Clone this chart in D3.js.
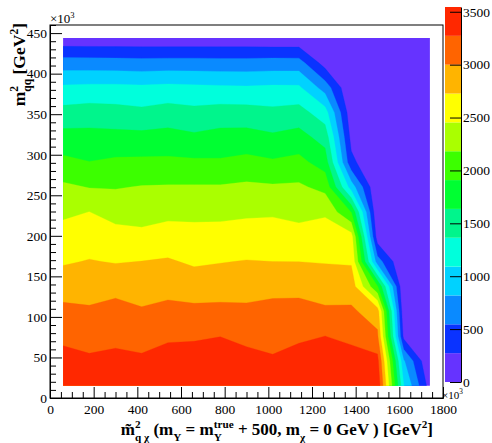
<!DOCTYPE html>
<html>
<head>
<meta charset="utf-8">
<script src="https://cdn.jsdelivr.net/npm/d3@7"></script>
<style>
body { margin: 0; background: #fff; }
text { font-family: "Liberation Serif", "Times New Roman", serif; }
</style>
</head>
<body>
<svg width="492" height="443"></svg>
<script>
// grid centres (units of 10^3 GeV^2)
var xBins = [60, 180, 300, 420, 540, 660, 780, 900, 1020, 1140, 1260, 1380, 1500, 1620, 1740];
var yBins = [15, 45.6, 76.3, 106.9, 137.6, 168.2, 198.8, 229.5, 260.1, 290.8, 321.4, 352, 382.7, 413.3, 444];

// z values, one row per yBin (bottom to top), one column per xBin
var zRows = [
    [3500, 3456, 3464, 3462, 3540, 3530, 3520, 3514, 3430, 3517, 3530, 3520, 3500, 1110, 150],
    [3365, 3316, 3338, 3318, 3390, 3403, 3431, 3361, 3303, 3375, 3423, 3374, 3360, 850, 0],
    [3214, 3175, 3210, 3172, 3230, 3238, 3268, 3207, 3189, 3231, 3273, 3217, 3050, 200, 0],
    [3064, 3035, 3083, 3027, 3072, 3061, 3065, 3053, 3074, 3088, 3041, 3044, 2860, 60, 0],
    [2885, 2888, 2924, 2878, 2913, 2870, 2884, 2895, 2929, 2923, 2870, 2872, 1936, 0, 0],
    [2698, 2741, 2711, 2731, 2755, 2689, 2716, 2738, 2727, 2726, 2714, 2700, 669, 0, 0],
    [2556, 2598, 2546, 2520, 2571, 2546, 2557, 2576, 2579, 2548, 2573, 2570, 126, 0, 0],
    [2404, 2456, 2364, 2348, 2384, 2388, 2388, 2410, 2421, 2380, 2420, 1900, 0, 0, 0],
    [2232, 2171, 2164, 2195, 2203, 2205, 2205, 2233, 2214, 2226, 2100, 965, 0, 0, 0],
    [1975, 1915, 1956, 1963, 1964, 1952, 1942, 1989, 1943, 1989, 1780, 341, 0, 0, 0],
    [1736, 1730, 1719, 1714, 1732, 1684, 1732, 1738, 1682, 1738, 1530, 190, 0, 0, 0],
    [1454, 1484, 1464, 1427, 1482, 1439, 1478, 1472, 1432, 1472, 1210, 90, 0, 0, 0],
    [1140, 1160, 1160, 1143, 1166, 1149, 1135, 1122, 1140, 1136, 700, 0, 0, 0, 0],
    [674, 667, 659, 647, 657, 657, 649, 649, 663, 660, 150, 0, 0, 0, 0],
    [68, 68, 68, 68, 66, 66, 66, 66, 50, 50, 0, 0, 0, 0, 0]
];

var zMax = 3545;
var levelColors = ["#6633ff", "#0a33ff", "#0a8aff", "#00d2ff", "#00ffdc", "#00f58c", "#00ff32",
                   "#3cff00", "#aaff00", "#ffff00", "#ffb400", "#ff6400", "#ff2800"];

var xTicks = [0, 200, 400, 600, 800, 1000, 1200, 1400, 1600, 1800];
var yTicks = [0, 50, 100, 150, 200, 250, 300, 350, 400, 450];
var zTicks = [0, 500, 1000, 1500, 2000, 2500, 3000, 3500];

var svg = d3.select("svg"),
    frame = {left: 50, right: 443, top: 25, bottom: 398};

var x = d3.scaleLinear().domain([0, 1800]).range([frame.left, frame.right]);
var y = d3.scaleLinear().domain([0, 460]).range([frame.bottom, frame.top]);
var zc = d3.scaleLinear().domain([0, zMax]).range([382, 7]);

// contours
var nx = xBins.length, ny = yBins.length;
var values = [].concat.apply([], zRows);
var thresholds = levelColors.map(function(c, i) { return i * zMax / levelColors.length; });
var contours = d3.contours().size([nx, ny]).thresholds(thresholds)(values);

var gx = d3.scaleLinear().domain([0.5, nx - 0.5]).range([xBins[0], xBins[nx - 1]]);
var gy = d3.scaleLinear().domain([0.5, ny - 0.5]).range([yBins[0], yBins[ny - 1]]);
var path = d3.geoPath(d3.geoTransform({
    point: function(px, py) { this.stream.point(x(gx(px)), y(gy(py))); }
}));

svg.append("clipPath").attr("id", "grid")
    .append("rect")
    .attr("x", x(xBins[0]))
    .attr("y", y(yBins[ny - 1]))
    .attr("width", x(xBins[nx - 1]) - x(xBins[0]))
    .attr("height", y(yBins[0]) - y(yBins[ny - 1]));

svg.append("g")
    .attr("clip-path", "url(#grid)")
    .selectAll("path")
    .data(contours)
    .enter().append("path")
    .attr("d", path)
    .attr("fill", function(d, i) { return levelColors[i]; })
    .attr("stroke", function(d, i) { return levelColors[i]; })
    .attr("stroke-width", 0.3);

// frame
svg.append("rect")
    .attr("x", frame.left).attr("y", frame.top)
    .attr("width", frame.right - frame.left).attr("height", frame.bottom - frame.top)
    .attr("fill", "none").attr("stroke", "#000").attr("stroke-width", 1);

function styleAxis(g) {
    g.attr("font-family", null);
    g.select(".domain").attr("stroke", "#000");
    g.selectAll(".tick line").attr("stroke", "#000");
    g.selectAll("text").attr("font-size", 13.5).attr("fill", "#000");
}

// x axis
var xMinor = d3.range(0, 1801, 50).filter(function(v) { return xTicks.indexOf(v) < 0; });
svg.append("g")
    .attr("transform", "translate(0," + frame.bottom + ")")
    .call(d3.axisBottom(x).tickValues(xMinor).tickSize(-6).tickSizeOuter(0).tickFormat(""))
    .call(styleAxis);
svg.append("g")
    .attr("transform", "translate(0," + frame.bottom + ")")
    .call(d3.axisBottom(x).tickValues(xTicks).tickSize(-11).tickSizeOuter(0).tickPadding(6).tickFormat(d3.format("d")))
    .call(styleAxis);

// y axis
var yMinor = d3.range(0, 461, 10).filter(function(v) { return yTicks.indexOf(v) < 0; });
svg.append("g")
    .attr("transform", "translate(" + frame.left + ",0)")
    .call(d3.axisLeft(y).tickValues(yMinor).tickSize(-6).tickSizeOuter(0).tickFormat(""))
    .call(styleAxis);
svg.append("g")
    .attr("transform", "translate(" + frame.left + ",0)")
    .call(d3.axisLeft(y).tickValues(yTicks).tickSize(-12).tickSizeOuter(0).tickPadding(3).tickFormat(d3.format("d")))
    .call(styleAxis);

// colour bar
var cb = svg.append("g");
cb.selectAll("rect")
    .data(thresholds)
    .enter().append("rect")
    .attr("x", 445)
    .attr("width", 16)
    .attr("y", function(d, i) { return zc(i < thresholds.length - 1 ? thresholds[i + 1] : zMax); })
    .attr("height", function(d, i) { return zc(d) - zc(i < thresholds.length - 1 ? thresholds[i + 1] : zMax); })
    .attr("fill", function(d, i) { return levelColors[i]; });
cb.append("g")
    .attr("transform", "translate(461,0)")
    .call(d3.axisRight(zc).tickValues(zTicks).tickSize(-11).tickSizeOuter(0).tickPadding(2).tickFormat(d3.format("d")))
    .call(styleAxis);

// rich text helper: parts = [{t, s: "sup"|"sub", back: true}]
function rich(parent, parts, size, bold) {
    var t = parent.append("text")
        .attr("x", 0).attr("y", 0)
        .attr("font-size", size)
        .attr("font-weight", bold ? "bold" : "normal")
        .attr("fill", "#000");
    var cur = 0, lastW = 0, pad = 0;
    parts.forEach(function(p) {
        var shift = p.s === "sup" ? -0.42 * size : (p.s === "sub" ? 0.34 * size : 0);
        var ts = t.append("tspan")
            .attr("font-size", p.s ? size * 0.66 : size)
            .attr("dy", shift - cur)
            .text(p.t);
        var w = ts.node().getComputedTextLength();
        if (p.back) {
            ts.attr("dx", -lastW);
            pad = Math.max(0, lastW - w);
        } else if (pad) {
            ts.attr("dx", pad);
            pad = 0;
        }
        cur = shift;
        lastW = w;
    });
    return t;
}

// multipliers
var m1 = svg.append("g").attr("transform", "translate(50,23)");
rich(m1, [{t: "\u00d710"}, {t: "3", s: "sup"}], 13, false);
var m2 = svg.append("g").attr("transform", "translate(442,399)");
rich(m2, [{t: "\u00d710"}, {t: "3", s: "sup"}], 11, false);

// x title, right aligned
var xt = svg.append("g");
var xtt = rich(xt, [
    {t: "m\u0303"}, {t: "2", s: "sup"}, {t: "q \u03c7", s: "sub", back: true},
    {t: " (m"}, {t: "Y", s: "sub"}, {t: " = m"}, {t: "true", s: "sup"}, {t: "Y", s: "sub", back: true},
    {t: " + 500, m"}, {t: "\u03c7", s: "sub"}, {t: " = 0 GeV ) [GeV"}, {t: "2", s: "sup"}, {t: "]"}
], 17, true);
var xb = xtt.node().getBBox();
xt.attr("transform", "translate(" + (433 - xb.x - xb.width) + ",435)");

// y title, rotated, right aligned at top
var yt = svg.append("g");
var ytt = rich(yt, [
    {t: "m"}, {t: "2", s: "sup"}, {t: "qq", s: "sub", back: true}, {t: " [GeV"}, {t: "2", s: "sup"}, {t: "]"}
], 17.5, true);
var yb = ytt.node().getBBox();
yt.attr("transform", "translate(25," + (23 + yb.x + yb.width) + ") rotate(-90)");
</script>
</body>
</html>
